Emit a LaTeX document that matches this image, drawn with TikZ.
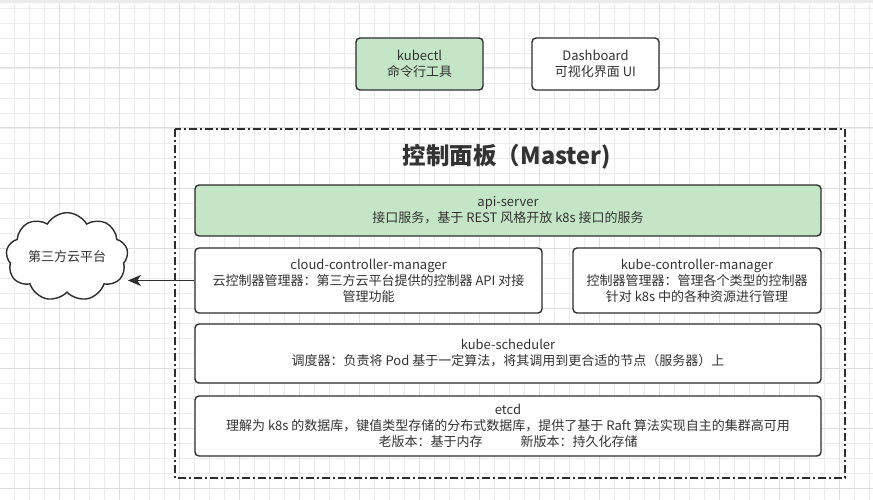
\documentclass[tikz,border=0pt]{standalone}
\usepackage{fontspec}
\setmainfont{Noto Sans CJK SC}
\usetikzlibrary{shapes.symbols,arrows.meta}
\definecolor{txt}{HTML}{333333}
\definecolor{edge}{HTML}{2E2E2E}
\definecolor{gfill}{RGB}{197,229,199}
\definecolor{gridminor}{HTML}{EBEBEB}
\definecolor{gridmajor}{HTML}{DEDEDE}
\tikzset{
  box/.style={draw=edge, line width=1.4pt, rounded corners=4pt, fill=white, text=txt,
    align=center, inner sep=0pt, font=\fontsize{13}{16}\selectfont},
  greenbox/.style={box, fill=gfill},
  arrowline/.style={draw=edge, line width=1.8pt, arrows={-Stealth[length=13pt,width=11pt,inset=3.5pt,fill=edge]}},
  frame/.style={draw=edge, line width=1.5pt, dash pattern=on 8pt off 3pt on 2pt off 3pt},
}
\begin{document}
\begin{tikzpicture}[x=1pt,y=-1pt]
\useasboundingbox (0,0) rectangle (873,500);
\fill[white] (0,0) rectangle (873,500);
% grid
\foreach \x in {14,29,...,873} \draw[gridminor, line width=0.8pt] (\x,0) -- (\x,500);
\foreach \y in {8,23,...,500} \draw[gridminor, line width=0.8pt] (0,\y) -- (873,\y);
\foreach \x in {59,119,...,873} \draw[gridmajor, line width=1pt] (\x,0) -- (\x,500);
\foreach \y in {68,128,...,500} \draw[gridmajor, line width=1pt] (0,\y) -- (873,\y);
\fill[gridminor] (0,0) rectangle (873,3);

% top tools
\node[greenbox, minimum width=127pt, minimum height=52pt] (kubectl) at (419.5,64) {kubectl\\命令行工具};
\node[box, minimum width=127pt, minimum height=52pt] (dash) at (595.5,64) {Dashboard\\可视化界面 UI};

% master frame
\draw[frame] (175,129) rectangle (845,478);
\node[text=txt, font=\fontsize{23.5}{26}\selectfont\bfseries] (title) at (507,157) {控制面板（Master)};

\node[greenbox, minimum width=626pt, minimum height=51pt] (api) at (508,210.5) {api-server\\接口服务，基于 REST 风格开放 k8s 接口的服务};
\node[box, minimum width=347pt, minimum height=65pt] (ccm) at (368.5,280.5) {cloud-controller-manager\\云控制器管理器：第三方云平台提供的控制器 API 对接\\管理功能};
\node[box, minimum width=248pt, minimum height=65pt] (kcm) at (697,280.5) {kube-controller-manager\\控制器管理器：管理各个类型的控制器\\针对 k8s 中的各种资源进行管理};
\node[box, minimum width=626pt, minimum height=59pt] (sched) at (508,353.5) {kube-scheduler\\调度器：负责将 Pod 基于一定算法，将其调用到更合适的节点（服务器）上};
\node[box, minimum width=626pt, minimum height=60pt] (etcd) at (508,426) {etcd\\理解为 k8s 的数据库，键值类型存储的分布式数据库，提供了基于 Raft 算法实现自主的集群高可用\\老版本：基于内存\hspace{38pt}新版本：持久化存储};

% cloud
\node[cloud, cloud puffs=9, cloud puff arc=120, aspect=1.55, draw=edge, line width=1.4pt, fill=white,
  text=txt, font=\fontsize{13}{16}\selectfont, minimum width=122pt, minimum height=78pt, inner sep=0pt] (cloud) at (67,257) {第三方云平台};

\draw[arrowline] (ccm.west) -- (cloud.east |- ccm.west);
\end{tikzpicture}
\end{document}
